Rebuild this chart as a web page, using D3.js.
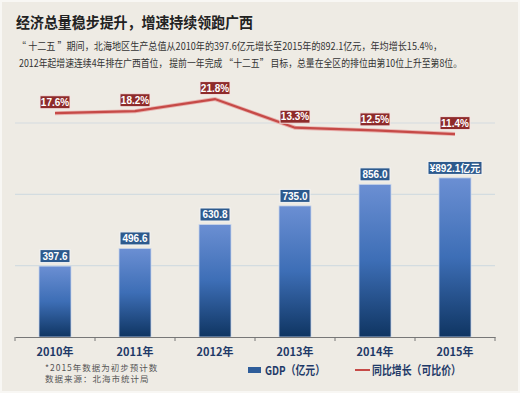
<!DOCTYPE html>
<html>
<head>
<meta charset="utf-8">
<script src="https://d3js.org/d3.v7.min.js"></script>
<style>
    body { margin: 0; background: #eeebe4; }
    svg { display: block; font-family: "Noto Sans CJK SC", "Noto Sans", sans-serif; }
</style>
</head>
<body>
<script>

    // data
    var years = ["2010年", "2011年", "2012年", "2013年", "2014年", "2015年"];
    var gdp = [397.6, 496.6, 630.8, 735.0, 856.0, 892.1];
    var gdpLabels = ["397.6", "496.6", "630.8", "735.0", "856.0", "¥892.1亿元"];
    var growth = [17.6, 18.2, 21.8, 13.3, 12.5, 11.4];
    var gridValues = [400, 800, 1200];

    var width = 520,
        height = 393;

    var svg = d3.select("body")
        .append("svg")
        .attr("width", width)
        .attr("height", height);

    svg.append("rect")
        .attr("x", 1).attr("y", 1)
        .attr("width", width - 2).attr("height", height - 2)
        .attr("fill", "#eeebe4")
        .attr("stroke", "#f8f7f4")
        .attr("stroke-width", 2);

    // gradient for the bars
    var grad = svg.append("defs").append("linearGradient")
        .attr("id", "barGrad")
        .attr("x1", 0).attr("y1", 0).attr("x2", 0).attr("y2", 1);
    grad.append("stop").attr("offset", "0%").attr("stop-color", "#6b8fd3");
    grad.append("stop").attr("offset", "50%").attr("stop-color", "#3d6eb6");
    grad.append("stop").attr("offset", "100%").attr("stop-color", "#0f3562");

    // title + text
    svg.append("text")
        .attr("x", 16).attr("y", 28)
        .attr("font-size", 15).attr("font-weight", "bold")
        .attr("fill", "#222")
        .attr("textLength", 237).attr("lengthAdjust", "spacingAndGlyphs")
        .text("经济总量稳步提升，增速持续领跑广西");

    svg.append("text")
        .attr("x", 17).attr("y", 50)
        .attr("font-size", 10).attr("fill", "#333")
        .attr("textLength", 425).attr("lengthAdjust", "spacingAndGlyphs")
        .text("“ 十二五 ”期间，北海地区生产总值从2010年的397.6亿元增长至2015年的892.1亿元，年均增长15.4%，");

    svg.append("text")
        .attr("x", 19).attr("y", 67)
        .attr("font-size", 10).attr("fill", "#333")
        .attr("textLength", 443).attr("lengthAdjust", "spacingAndGlyphs")
        .text("2012年起增速连续4年排在广西首位， 提前一年完成 “十二五” 目标，总量在全区的排位由第10位上升至第8位。");

    // scales
    var x = d3.scaleBand()
        .domain(years)
        .range([15, 495]);

    var y = d3.scaleLinear()
        .domain([0, 1200])
        .range([337, 123]);

    var yLine = d3.scaleLinear()
        .domain([0, 25])
        .range([172.5, 88.3]);

    // gridlines
    svg.append("g")
        .selectAll("line")
        .data(gridValues)
        .enter()
        .append("line")
        .attr("x1", 15).attr("x2", 495)
        .attr("y1", function (d) { return y(d); })
        .attr("y2", function (d) { return y(d); })
        .attr("stroke", "#d3dce0")
        .attr("stroke-width", 1.2);

    // bars
    var barW = 32;
    svg.append("g")
        .selectAll("rect")
        .data(gdp)
        .enter()
        .append("rect")
        .attr("x", function (d, i) { return x(years[i]) + x.bandwidth() / 2 - barW / 2; })
        .attr("y", function (d) { return y(d); })
        .attr("width", barW)
        .attr("height", function (d) { return y(0) - y(d); })
        .attr("fill", "url(#barGrad)")
        .attr("stroke", "#c9d5ea")
        .attr("stroke-width", 0.8);

    // x axis
    var xAxis = svg.append("g")
        .attr("transform", "translate(0," + y(0) + ")")
        .call(d3.axisBottom(x).tickSize(0).tickPadding(11));
    xAxis.select(".domain").attr("stroke", "#777").attr("stroke-width", 1.2);
    xAxis.selectAll("text")
        .attr("font-size", 11)
        .attr("font-weight", "bold")
        .attr("fill", "#1f3a68")
        .attr("font-family", "\"Noto Sans CJK SC\", sans-serif");
    xAxis.selectAll(".sep")
        .data(d3.range(years.length + 1))
        .enter()
        .append("line")
        .attr("class", "sep")
        .attr("x1", function (i) { return 15 + i * x.bandwidth(); })
        .attr("x2", function (i) { return 15 + i * x.bandwidth(); })
        .attr("y1", 0).attr("y2", 4)
        .attr("stroke", "#777");

    // bar value labels
    var gl = svg.append("g")
        .selectAll("g")
        .data(gdp)
        .enter()
        .append("g")
        .attr("transform", function (d, i) {
            return "translate(" + (x(years[i]) + x.bandwidth() / 2) + "," + (y(d) - 10) + ")";
        });
    gl.append("rect")
        .attr("x", function (d, i) { return i === 5 ? -27 : -15; })
        .attr("y", -6.5)
        .attr("width", function (d, i) { return i === 5 ? 54 : 30; })
        .attr("height", 13)
        .attr("fill", "#2d5a8d")
        .attr("stroke", "#f4f4f4")
        .attr("stroke-width", 1);
    gl.append("text")
        .attr("text-anchor", "middle")
        .attr("dy", "0.36em")
        .attr("font-size", 10)
        .attr("font-weight", "bold")
        .attr("font-family", "\"Liberation Sans\", \"Noto Sans CJK SC\", sans-serif")
        .attr("fill", "#fff")
        .text(function (d, i) { return gdpLabels[i]; });

    // growth line
    var line = d3.line()
        .x(function (d, i) { return x(years[i]) + x.bandwidth() / 2; })
        .y(function (d) { return yLine(d); });

    svg.append("path")
        .datum(growth)
        .attr("d", line)
        .attr("fill", "none")
        .attr("stroke", "#e8b0ad")
        .attr("stroke-width", 4);
    svg.append("path")
        .datum(growth)
        .attr("d", line)
        .attr("fill", "none")
        .attr("stroke", "#c64a47")
        .attr("stroke-width", 2.2);

    var rl = svg.append("g")
        .selectAll("g")
        .data(growth)
        .enter()
        .append("g")
        .attr("transform", function (d, i) {
            return "translate(" + (x(years[i]) + x.bandwidth() / 2) + "," + (yLine(d) - 11) + ")";
        });
    rl.append("rect")
        .attr("x", -15).attr("y", -6.5)
        .attr("width", 30).attr("height", 13)
        .attr("fill", "#8e2b2b")
        .attr("stroke", "#f6e6e4")
        .attr("stroke-width", 1);
    rl.append("text")
        .attr("text-anchor", "middle")
        .attr("dy", "0.36em")
        .attr("font-size", 10)
        .attr("font-weight", "bold")
        .attr("font-family", "\"Liberation Sans\", sans-serif")
        .attr("fill", "#fff")
        .text(function (d) { return d.toFixed(1) + "%"; });

    // footnote
    svg.append("text")
        .attr("x", 45).attr("y", 371)
        .attr("font-size", 8.5).attr("fill", "#555")
        .attr("letter-spacing", 1)
        .text("*2015年数据为初步预计数");
    svg.append("text")
        .attr("x", 45).attr("y", 382)
        .attr("font-size", 8.5).attr("fill", "#555")
        .attr("letter-spacing", 1)
        .text("数据来源：北海市统计局");

    // legend
    svg.append("rect")
        .attr("x", 248).attr("y", 367)
        .attr("width", 13).attr("height", 6)
        .attr("fill", "#2e5d9a");
    svg.append("text")
        .attr("x", 265).attr("y", 375)
        .attr("font-size", 12).attr("font-weight", "bold")
        .attr("fill", "#1f3a68")
        .attr("textLength", 60).attr("lengthAdjust", "spacingAndGlyphs")
        .text("GDP（亿元）");
    svg.append("line")
        .attr("x1", 355).attr("x2", 370)
        .attr("y1", 370).attr("y2", 370)
        .attr("stroke", "#c64a47").attr("stroke-width", 2);
    svg.append("text")
        .attr("x", 372).attr("y", 375)
        .attr("font-size", 12).attr("font-weight", "bold")
        .attr("fill", "#1f3a68")
        .attr("textLength", 89).attr("lengthAdjust", "spacingAndGlyphs")
        .text("同比增长（可比价）");

</script>
</body>
</html>
